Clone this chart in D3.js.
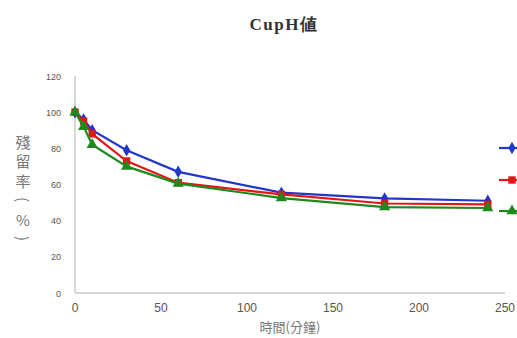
<!DOCTYPE html>
<html><head><meta charset="utf-8">
<script src="https://cdn.jsdelivr.net/npm/d3@7"></script>
<style>body{margin:0;background:#fff}svg{display:block}</style>
</head><body>
<svg id="c" width="517" height="338"></svg>
<script>
const times = [0, 5, 10, 30, 60, 120, 180, 240];
const blueVals = [100, 96, 90, 79, 67, 55.5, 52.3, 51];
const redVals = [100, 95, 88, 73, 61, 54.5, 49.5, 49];
const greenVals = [100, 92, 82, 70, 60.5, 52.5, 47.5, 47];
const xTicks = [0, 50, 100, 150, 200, 250];
const yTicks = [0, 20, 40, 60, 80, 100, 120];
const title = "CupH値";
const xLabel = "時間(分鐘)";
const yLabelChars = ["殘", "留", "率", "(", "%", ")"];

const series = [
  {name: "blue", vals: blueVals, color: "#2236c8", shape: d3.symbolDiamond, size: 45, legendY: 148},
  {name: "red", vals: redVals, color: "#e01818", shape: d3.symbolSquare, size: 55, legendY: 180},
  {name: "green", vals: greenVals, color: "#1e8a1e", shape: d3.symbolTriangle, size: 55, legendY: 211}
];

const svg = d3.select("#c");
const x = d3.scaleLinear().domain([0, 250]).range([75, 505]);
const y = d3.scaleLinear().domain([0, 120]).range([293, 76]);

// axes
svg.append("line").attr("x1", x(0)).attr("x2", x(250)).attr("y1", y(0)).attr("y2", y(0))
  .attr("stroke", "#c8c8c8").attr("stroke-width", 1.5);
svg.append("line").attr("x1", x(0)).attr("x2", x(0)).attr("y1", y(0)).attr("y2", y(120))
  .attr("stroke", "#c8c8c8").attr("stroke-width", 1.5);

svg.selectAll(".xt").data(xTicks).enter().append("text")
  .attr("x", d => x(d)).attr("y", 312).attr("text-anchor", "middle")
  .attr("font-family", "Liberation Sans, Arial, sans-serif").attr("font-size", 12).attr("fill", "#555")
  .text(d => d);
svg.selectAll(".yt").data(yTicks).enter().append("text")
  .attr("x", 61).attr("y", d => y(d) + 3.5).attr("text-anchor", "end")
  .attr("font-family", "Liberation Sans, Arial, sans-serif").attr("font-size", 9).attr("fill", "#555")
  .text(d => d);

// title
svg.append("text").attr("x", 284).attr("y", 30).attr("text-anchor", "middle")
  .attr("font-family", "Liberation Serif, DejaVu Serif, serif").attr("font-size", 17).attr("font-weight", "bold")
  .attr("fill", "#333").attr("letter-spacing", 1.5).text(title);

// x label
svg.append("text").attr("x", 290).attr("y", 332).attr("text-anchor", "middle")
  .attr("font-family", "Noto Sans CJK TC, sans-serif").attr("font-size", 13).attr("fill", "#777")
  .text(xLabel);

// y label vertical (brackets rotated)
svg.selectAll(".yl").data(yLabelChars).enter().append("text")
  .attr("text-anchor", "middle").attr("dominant-baseline", "central")
  .attr("transform", (d, i) => {
    const cy = 141 + i * 19.5;
    return (d === "(" || d === ")") ? `translate(23,${cy}) rotate(90)` : `translate(23,${cy})`;
  })
  .attr("font-family", "Noto Sans CJK TC, sans-serif").attr("font-size", 15).attr("fill", "#777")
  .text(d => d);

// series
const line = d3.line().x(d => x(d[0])).y(d => y(d[1]));
series.forEach(s => {
  const pts = times.map((t, i) => [t, s.vals[i]]);
  svg.append("path").attr("d", line(pts)).attr("fill", "none")
    .attr("stroke", s.color).attr("stroke-width", 2.2);
  svg.selectAll(null).data(pts).enter().append("path")
    .attr("d", d3.symbol().type(s.shape).size(s.size))
    .attr("transform", d => `translate(${x(d[0])},${y(d[1])})`)
    .attr("fill", s.color);
  // legend (cut off at right edge)
  svg.append("line").attr("x1", 499).attr("x2", 520).attr("y1", s.legendY).attr("y2", s.legendY)
    .attr("stroke", s.color).attr("stroke-width", 2.2);
  svg.append("path").attr("d", d3.symbol().type(s.shape).size(s.size))
    .attr("transform", `translate(512,${s.legendY})`).attr("fill", s.color);
});
</script>
</body></html>
